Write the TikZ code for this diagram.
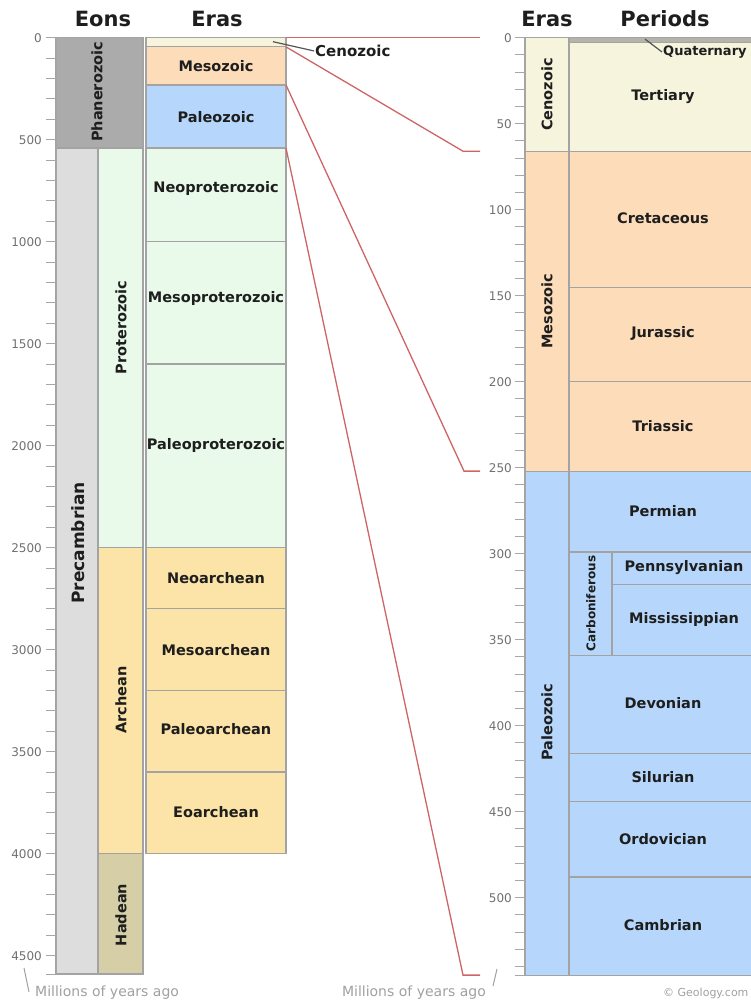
\documentclass[tikz,border=0pt]{standalone}
\usepackage{fontspec}
\setmainfont{DejaVu Sans}

\definecolor{phanero}{HTML}{ABABAB}
\definecolor{precamb}{HTML}{DDDDDD}
\definecolor{protero}{HTML}{E9FAEA}
\definecolor{archean}{HTML}{FCE3A7}
\definecolor{hadean}{HTML}{D6CEA6}
\definecolor{ceno}{HTML}{F6F4DC}
\definecolor{meso}{HTML}{FDDCBA}
\definecolor{paleo}{HTML}{B6D7FB}
\definecolor{quat}{HTML}{B4B4AA}
\definecolor{cellline}{HTML}{A3A3A3}
\definecolor{axisgray}{HTML}{A6A6A6}
\definecolor{numgray}{HTML}{707070}
\definecolor{notegray}{HTML}{A0A0A0}
\definecolor{zoomred}{HTML}{CF6464}
\definecolor{inktext}{HTML}{1E1E1E}
\definecolor{leadgray}{HTML}{555555}

\begin{document}
\begin{tikzpicture}[x=1pt, y=-1pt,
    cell/.style={draw=cellline, line width=1.2pt},
    lbl/.style={font=\fontsize{14.5}{16}\selectfont\bfseries, text=inktext, inner sep=1pt},
    vlbl/.style={lbl, rotate=90},
    head/.style={font=\fontsize{21}{24}\selectfont\bfseries, text=inktext},
    tick/.style={draw=axisgray, line width=1pt},
    num/.style={font=\fontsize{12}{14}\selectfont, text=numgray, anchor=east, inner sep=1pt},
    note/.style={font=\fontsize{14}{16}\selectfont, text=notegray, inner sep=1pt},
    zoomline/.style={draw=zoomred, line width=1.3pt},
    leader/.style={draw=leadgray, line width=1.2pt}
]
    \useasboundingbox (0,0) rectangle (751,1003);
    \clip (0,0) rectangle (751,1003);

    % Headers
    \node[head] (eonhead) at (103,19) {Eons};
    \node[head] (erahead) at (217,19) {Eras};
    \node[head] (erahead2) at (547,19) {Eras};
    \node[head] (perhead) at (665,19) {Periods};

    % Full time scale (y in millions of years)
    \begin{scope}[yshift=-37.7pt, y=-0.204pt]
        % Eons
        \draw[cell, fill=phanero] (56,0) rectangle (143,541);
        \draw[cell, fill=precamb] (56,541) rectangle (98,4590);
        \draw[cell, fill=protero] (98,541) rectangle (143,2500);
        \draw[cell, fill=archean] (98,2500) rectangle (143,4000);
        \draw[cell, fill=hadean] (98,4000) rectangle (143,4590);
        \node[vlbl] (phanerozoic) at (97,266) {Phanerozoic};
        \node[vlbl, font=\fontsize{17}{19}\selectfont\bfseries] (precambrian) at (78,2477) {Precambrian};
        \node[vlbl] (proterozoic) at (121,1420) {Proterozoic};
        \node[vlbl] (archeon) at (121,3246) {Archean};
        \node[vlbl] (hadeon) at (121,4300) {Hadean};

        % Eras
        \draw[cell, fill=ceno] (146,0) rectangle (286,45);
        \draw[cell, fill=meso] (146,45) rectangle (286,232);
        \draw[cell, fill=paleo] (146,232) rectangle (286,541);
        \draw[cell, fill=protero] (146,541) rectangle (286,1000);
        \draw[cell, fill=protero] (146,1000) rectangle (286,1600);
        \draw[cell, fill=protero] (146,1600) rectangle (286,2500);
        \draw[cell, fill=archean] (146,2500) rectangle (286,2800);
        \draw[cell, fill=archean] (146,2800) rectangle (286,3200);
        \draw[cell, fill=archean] (146,3200) rectangle (286,3600);
        \draw[cell, fill=archean] (146,3600) rectangle (286,4000);
        \node[lbl] (mesozoic) at (216,138) {Mesozoic};
        \node[lbl] (paleozoic) at (216,388) {Paleozoic};
        \node[lbl] (neoprot) at (216,741) {Neoproterozoic};
        \node[lbl] (mesoprot) at (216,1280) {Mesoproterozoic};
        \node[lbl] (paleoprot) at (216,2000) {Paleoproterozoic};
        \node[lbl] (neoarch) at (216,2650) {Neoarchean};
        \node[lbl] (mesoarch) at (216,3000) {Mesoarchean};
        \node[lbl] (paleoarch) at (216,3390) {Paleoarchean};
        \node[lbl] (eoarch) at (216,3795) {Eoarchean};

        % Cenozoic call-out
        \coordinate (cenopt) at (273,19.6);
        \node[lbl, anchor=west, font=\fontsize{15}{17}\selectfont\bfseries] (cenolabel) at (314,65) {Cenozoic};
        \draw[leader] (cenopt) -- (cenolabel.west);

        % Axis
        \foreach \m in {0,100,...,4500}
            \draw[tick] (46,\m) -- (56,\m);
        \draw[tick] (46,4590) -- (56,4590);
        \foreach \m in {0,500,...,4500}
            \node[num] (lnum\m) at (43,\m) {\m};
        \draw[tick] (56,0) -- (56,4590);

        % Zoom anchors
        \coordinate (l0) at (286,0);
        \coordinate (l45) at (286,45);
        \coordinate (l232) at (286,232);
        \coordinate (l541) at (286,541);
    \end{scope}

    % Phanerozoic detail (y in millions of years)
    \begin{scope}[yshift=-37.7pt, y=-1.72pt]
        % Eras
        \draw[cell, fill=ceno] (525,0) rectangle (569,66);
        \draw[cell, fill=meso] (525,66) rectangle (569,252);
        \draw[cell, fill=paleo] (525,252) rectangle (569,545);
        \node[vlbl] (cenozoic2) at (547,33) {Cenozoic};
        \node[vlbl] (mesozoic2) at (547,159) {Mesozoic};
        \node[vlbl] (paleozoic2) at (547,398) {Paleozoic};

        % Periods
        \draw[cell, fill=ceno] (569,2.6) rectangle (757,66);
        \draw[cell, fill=quat] (569,0) rectangle (757,2.6);
        \draw[cell, fill=meso] (569,66) rectangle (757,145);
        \draw[cell, fill=meso] (569,145) rectangle (757,200);
        \draw[cell, fill=meso] (569,200) rectangle (757,252);
        \draw[cell, fill=paleo] (569,252) rectangle (757,299);
        \draw[cell, fill=paleo] (569,299) rectangle (612,359);
        \draw[cell, fill=paleo] (612,299) rectangle (757,318);
        \draw[cell, fill=paleo] (612,318) rectangle (757,359);
        \draw[cell, fill=paleo] (569,359) rectangle (757,416);
        \draw[cell, fill=paleo] (569,416) rectangle (757,444);
        \draw[cell, fill=paleo] (569,444) rectangle (757,488);
        \draw[cell, fill=paleo] (569,488) rectangle (757,545);
        \node[lbl] (tertiary) at (663,34) {Tertiary};
        \node[lbl] (cretaceous) at (663,105) {Cretaceous};
        \node[lbl] (jurassic) at (663,172) {Jurassic};
        \node[lbl] (triassic) at (663,226) {Triassic};
        \node[lbl] (permian) at (663,275) {Permian};
        \node[vlbl, font=\fontsize{12}{14}\selectfont\bfseries] (carbonif) at (591,329) {Carboniferous};
        \node[lbl] (pennsyl) at (684,308) {Pennsylvanian};
        \node[lbl] (mississ) at (684,338) {Mississippian};
        \node[lbl] (devonian) at (663,387) {Devonian};
        \node[lbl] (silurian) at (663,430) {Silurian};
        \node[lbl] (ordovic) at (663,466) {Ordovician};
        \node[lbl] (cambrian) at (663,516) {Cambrian};

        % Quaternary call-out
        \coordinate (quatpt) at (645,0.8);
        \node[lbl, anchor=west, font=\fontsize{13}{15}\selectfont\bfseries] (quatlabel) at (662,8.3) {Quaternary};
        \draw[leader] (quatpt) -- (quatlabel.west);

        % Axis
        \foreach \m in {0,10,...,540}
            \draw[tick] (515,\m) -- (525,\m);
        \draw[tick] (515,545) -- (525,545);
        \foreach \m in {0,50,...,500}
            \node[num] (rnum\m) at (513,\m) {\m};
        \draw[tick] (525,0) -- (525,545);

        % Zoom anchors
        \coordinate (r0) at (480,0);
        \coordinate (k66) at (463,66);
        \coordinate (r66) at (480,66);
        \coordinate (k252) at (464,252);
        \coordinate (r252) at (480,252);
        \coordinate (k545) at (463,545);
        \coordinate (r545) at (480,545);
    \end{scope}

    % Zoom lines
    \draw[zoomline] (l0) -- (r0);
    \draw[zoomline] (l45) -- (k66) -- (r66);
    \draw[zoomline] (l232) -- (k252) -- (r252);
    \draw[zoomline] (l541) -- (k545) -- (r545);

    % Footer
    \node[note, anchor=west] (lnote) at (34,993) {Millions of years ago};
    \node[note, anchor=east] (rnote) at (487,993) {Millions of years ago};
    \node[note, anchor=west, font=\fontsize{11}{13}\selectfont] (credit) at (662,993) {© Geology.com};
    \draw[tick, draw=notegray] (24,968) -- (29,992);
    \draw[tick, draw=notegray] (497,969) -- (493,986);
\end{tikzpicture}
\end{document}
